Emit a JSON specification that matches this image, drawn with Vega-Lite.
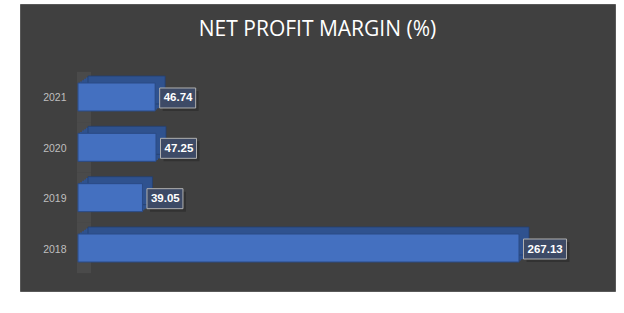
{
  "$schema": "https://vega.github.io/schema/vega-lite/v6.json",
  "width": 595,
  "height": 287,
  "autosize": "none",
  "padding": {"left": 20, "top": 4, "right": 9, "bottom": 22},
  "background": "#ffffff",
  "config": {"view": {"fill": "#404040", "stroke": "#595959", "strokeWidth": 1}},
  "title": {
    "text": "NET PROFIT MARGIN (%)",
    "font": "Open Sans",
    "fontSize": 21,
    "fontWeight": "normal",
    "color": "#ffffff",
    "anchor": "middle",
    "baseline": "alphabetic",
    "offset": -53
  },
  "data": {
    "values": [
      {"year": "2021", "value": 46.74},
      {"year": "2020", "value": 47.25},
      {"year": "2019", "value": 39.05},
      {"year": "2018", "value": 267.13}
    ]
  },
  "encoding": {
    "y": {
      "field": "year",
      "type": "nominal",
      "sort": ["2021", "2020", "2019", "2018"],
      "scale": {"range": [79, 258], "paddingInner": 0.444, "paddingOuter": 0},
      "axis": {
        "title": null,
        "orient": "left",
        "offset": -48,
        "domain": false,
        "ticks": false,
        "grid": false,
        "labelPadding": 2,
        "labelOffset": 1.5,
        "labelColor": "#bfbfbf",
        "labelFont": "Liberation Sans",
        "labelFontSize": 10.5
      }
    },
    "x": {
      "field": "value",
      "type": "quantitative",
      "scale": {"domain": [-35.13, 325.28], "zero": false, "nice": false},
      "axis": null
    }
  },
  "layer": [
    {
      "mark": {"type": "bar", "fill": "#4a4a4a", "height": {"band": 1.8}, "xOffset": -1, "x2Offset": 13},
      "encoding": {"x": {"datum": 0, "type": "quantitative"}, "x2": {"datum": 0}}
    },
    {
      "mark": {"type": "bar", "fill": "#2f528f", "xOffset": 2, "x2Offset": 2, "yOffset": -1.4},
      "encoding": {"x2": {"datum": 0}}
    },
    {
      "mark": {"type": "bar", "fill": "#2f528f", "xOffset": 4, "x2Offset": 4, "yOffset": -2.8},
      "encoding": {"x2": {"datum": 0}}
    },
    {
      "mark": {"type": "bar", "fill": "#2f528f", "xOffset": 6, "x2Offset": 6, "yOffset": -4.2},
      "encoding": {"x2": {"datum": 0}}
    },
    {
      "mark": {"type": "bar", "fill": "#2f528f", "xOffset": 8, "x2Offset": 8, "yOffset": -5.6},
      "encoding": {"x2": {"datum": 0}}
    },
    {
      "mark": {"type": "bar", "fill": "#2f528f", "stroke": "#24406f", "strokeWidth": 0.8, "xOffset": 10, "x2Offset": 10, "yOffset": -7},
      "encoding": {"x2": {"datum": 0}}
    },
    {
      "mark": {"type": "bar", "fill": "#4470c0", "stroke": "#2a4a85", "strokeWidth": 1},
      "encoding": {"x2": {"datum": 0}}
    },
    {
      "mark": {
        "type": "bar",
        "fill": "#000000",
        "opacity": 0.22,
        "height": 20,
        "yOffset": 4,
        "xOffset": 7.5,
        "x2Offset": {"expr": "8.5 + 7 * length(format(datum.value, '.2f'))"}
      },
      "encoding": {"x2": {"field": "value"}}
    },
    {
      "mark": {
        "type": "bar",
        "fill": "#3d4a66",
        "stroke": "#b0b0b0",
        "strokeWidth": 1,
        "height": 20,
        "yOffset": 1,
        "xOffset": 4.5,
        "x2Offset": {"expr": "5.5 + 7 * length(format(datum.value, '.2f'))"}
      },
      "encoding": {"x2": {"field": "value"}}
    },
    {
      "mark": {
        "type": "text",
        "align": "left",
        "baseline": "middle",
        "dx": 8.5,
        "dy": 1.5,
        "font": "Liberation Sans",
        "fontSize": 11.5,
        "fontWeight": "bold",
        "fill": "#ffffff"
      },
      "encoding": {"text": {"field": "value", "type": "quantitative", "format": ".2f"}}
    }
  ]
}
